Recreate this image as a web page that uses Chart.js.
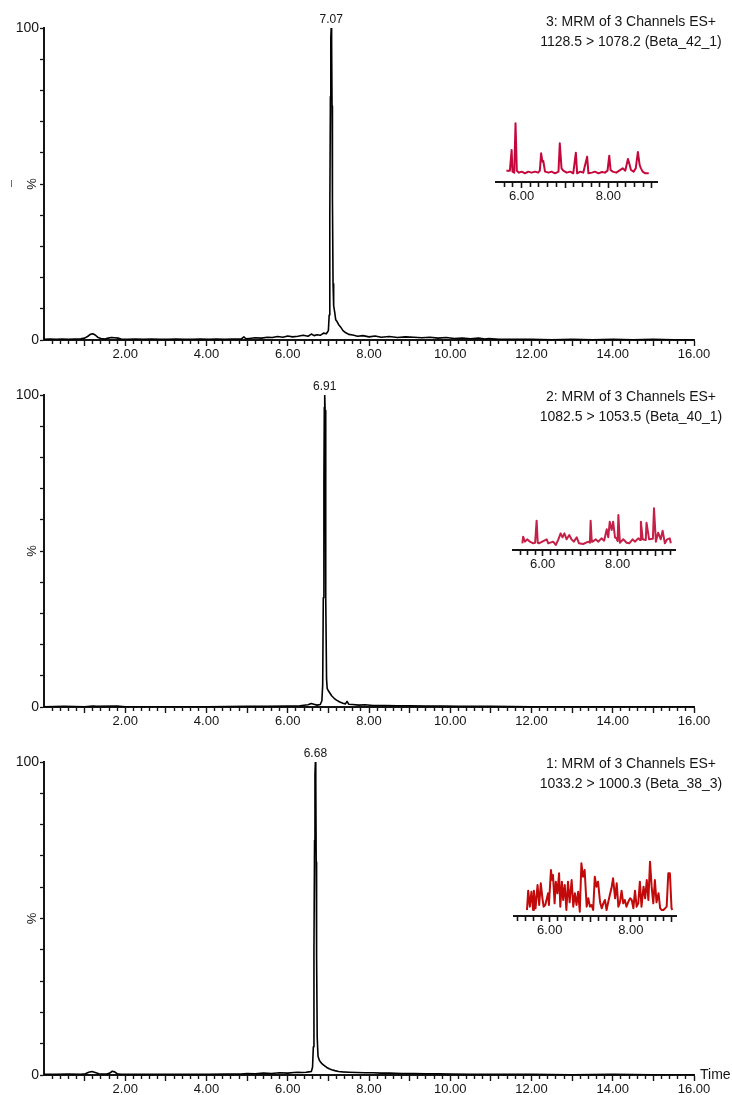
<!DOCTYPE html>
<html>
<head>
<meta charset="utf-8">
<title>MRM chromatograms</title>
<script src="https://cdn.jsdelivr.net/npm/chart.js@4.4.1/dist/chart.umd.min.js"></script>
<style>
  html, body { margin: 0; padding: 0; background: #ffffff; }
  #wrap { position: relative; width: 732px; height: 1095px; overflow: hidden; background: #ffffff; }
  #wrap canvas { position: absolute; }
</style>
</head>
<body>
<div id="wrap"></div>
<script>
// ---- labels -------------------------------------------------------------
const timeLabels = [2, 4, 6, 8, 10, 12, 14, 16];      // main retention-time axis (min)
const zoomTimeLabels = [6, 8];                        // zoomed window axis (min)
const intensityLabels = [0, 100];                     // relative intensity (%)

const channelTitles = [
  ['3: MRM of 3 Channels ES+', '1128.5 > 1078.2 (Beta_42_1)'],
  ['2: MRM of 3 Channels ES+', '1082.5 > 1053.5 (Beta_40_1)'],
  ['1: MRM of 3 Channels ES+', '1033.2 > 1000.3 (Beta_38_3)']
];
const peakTimes = [7.07, 6.91, 6.68];

// ---- full-range traces: [time (min), intensity (%)] --------------------
const ch3Trace = [
  [0.00,0.2],[0.15,0.3],[0.30,0.2],[0.45,0.3],[0.60,0.2],[0.75,0.3],[0.90,0.4],[1.00,0.6],
  [1.08,1.2],[1.14,1.8],[1.20,2.0],[1.26,1.6],[1.32,0.9],[1.40,0.5],[1.50,0.3],[1.58,0.6],
  [1.66,0.8],[1.74,0.7],[1.82,0.6],[1.90,0.3],[2.05,0.2],[2.25,0.3],[2.45,0.2],[2.65,0.3],
  [2.85,0.2],[3.05,0.2],[3.25,0.3],[3.45,0.2],[3.65,0.2],[3.85,0.3],[4.05,0.2],[4.25,0.3],
  [4.45,0.2],[4.65,0.3],[4.85,0.3],[4.92,1.0],[4.97,0.4],[5.05,0.5],[5.20,0.7],[5.35,0.6],
  [5.50,0.9],[5.62,0.8],[5.75,1.1],[5.88,0.9],[6.00,1.3],[6.12,1.0],[6.25,1.2],[6.38,1.5],
  [6.50,1.2],[6.58,1.9],[6.65,1.4],[6.72,1.7],[6.80,1.5],[6.88,2.2],[6.95,2.0],[7.00,3.0],
  [7.02,8],[7.035,40],[7.05,78],[7.06,97],[7.07,100],[7.08,95],[7.09,75],[7.10,45],
  [7.115,18],[7.13,11],[7.16,8.5],[7.18,6.5],[7.21,6.0],[7.25,5.0],[7.30,4.2],[7.36,3.0],
  [7.42,2.4],[7.50,1.8],[7.60,1.6],[7.72,1.2],[7.85,1.4],[8.00,1.0],[8.15,1.3],[8.30,0.9],
  [8.50,1.1],[8.70,0.8],[8.90,1.0],[9.10,0.9],[9.30,0.7],[9.50,0.9],[9.70,0.6],[9.90,0.8],
  [10.10,0.5],[10.30,0.6],[10.50,0.4],[10.70,0.6],[10.85,0.3],[10.95,0.5],[11.20,0.2],
  [11.60,0.2],[12.00,0.2],[12.50,0.1],[13.00,0.2],[13.50,0.1],[14.00,0.2],[14.50,0.1],
  [15.00,0.2],[15.50,0.1],[16.00,0.1]
];
const ch2Trace = [
  [0.00,0.1],[0.50,0.2],[1.00,0.1],[1.20,0.3],[1.30,0.2],[1.80,0.3],[2.00,0.1],[3.00,0.1],
  [4.00,0.1],[5.00,0.2],[5.50,0.2],[6.00,0.3],[6.30,0.4],[6.50,0.7],[6.58,1.1],[6.64,0.9],
  [6.72,0.6],[6.80,0.8],[6.84,2.0],[6.86,7],[6.875,35],[6.89,72],[6.90,96],[6.91,100],
  [6.92,95],[6.93,70],[6.94,35],[6.955,9],[6.97,6.0],[7.00,5.2],[7.04,4.4],[7.08,3.6],
  [7.14,2.8],[7.20,2.2],[7.28,1.6],[7.36,1.2],[7.42,1.0],[7.46,1.8],[7.50,0.9],[7.60,0.8],
  [7.75,0.6],[7.90,0.7],[8.10,0.5],[8.40,0.5],[8.70,0.4],[9.00,0.4],[9.40,0.3],[9.80,0.3],
  [10.20,0.2],[11.00,0.2],[12.00,0.1],[13.00,0.1],[14.00,0.1],[15.00,0.1],[16.00,0.1]
];
const ch1Trace = [
  [0.00,0.2],[0.30,0.2],[0.60,0.3],[0.90,0.2],[1.02,0.4],[1.10,0.9],[1.18,1.1],[1.26,0.8],
  [1.35,0.4],[1.45,0.3],[1.55,0.3],[1.62,0.6],[1.68,1.2],[1.74,1.0],[1.80,0.4],[1.90,0.2],
  [2.10,0.2],[2.50,0.2],[3.00,0.2],[3.50,0.2],[4.00,0.2],[4.50,0.3],[4.85,0.3],[5.00,0.5],
  [5.20,0.4],[5.40,0.6],[5.60,0.5],[5.80,0.7],[6.00,0.6],[6.15,0.8],[6.25,0.9],[6.35,0.8],
  [6.45,0.9],[6.52,1.0],[6.58,1.1],[6.61,2.5],[6.63,9],[6.645,40],[6.66,75],[6.67,96],
  [6.68,100],[6.69,94],[6.70,68],[6.71,38],[6.725,12],[6.745,6.0],[6.78,4.6],[6.84,3.6],
  [6.90,3.0],[6.96,2.4],[7.02,2.0],[7.08,1.7],[7.16,1.4],[7.25,1.1],[7.35,1.0],[7.50,0.9],
  [7.70,0.8],[7.90,0.7],[8.10,0.7],[8.30,0.6],[8.50,0.6],[8.80,0.5],[9.10,0.5],[9.40,0.4],
  [9.70,0.4],[10.00,0.3],[10.50,0.2],[11.00,0.2],[12.00,0.2],[13.00,0.1],[14.00,0.2],
  [15.00,0.1],[16.00,0.1]
];

// ---- zoomed windows: [time (min), relative height within window] -------
const ch3Zoom = [
  [5.65,18.3],[5.73,18.3],[5.77,51.6],[5.79,16.7],[5.83,15.1],[5.86,94.6],[5.89,18.3],[5.94,15.1],
  [6.00,16.7],[6.08,14.0],[6.15,16.7],[6.23,15.1],[6.31,16.7],[6.38,15.1],[6.42,18.3],[6.45,46.2],
  [6.48,32.8],[6.50,33.9],[6.54,16.7],[6.62,15.1],[6.69,16.7],[6.77,14.0],[6.85,16.7],[6.88,62.4],
  [6.92,22.0],[6.96,18.3],[7.04,15.1],[7.12,16.7],[7.19,14.0],[7.25,47.3],[7.28,14.0],[7.35,16.7],
  [7.42,15.1],[7.51,40.9],[7.54,14.0],[7.62,15.1],[7.69,16.7],[7.77,14.0],[7.85,16.1],[7.92,15.1],
  [7.98,18.3],[8.02,42.5],[8.05,19.4],[8.10,16.7],[8.18,15.1],[8.25,18.3],[8.33,22.0],[8.39,18.3],
  [8.45,37.1],[8.48,30.1],[8.52,19.4],[8.58,16.7],[8.63,22.0],[8.68,48.4],[8.72,27.4],[8.75,22.0],
  [8.79,16.7],[8.85,14.0],[8.90,14.0],[8.93,14.0]
];
const ch2Zoom = [
  [5.46,14.8],[5.48,29.6],[5.53,18.5],[5.59,23.7],[5.66,18.5],[5.75,14.8],[5.80,16.0],[5.84,65.2],
  [5.87,16.0],[5.90,14.8],[6.11,23.7],[6.15,14.8],[6.28,18.5],[6.35,11.1],[6.42,23.7],[6.48,37.0],
  [6.53,28.1],[6.58,37.0],[6.64,23.7],[6.71,33.3],[6.77,23.7],[6.83,18.5],[6.91,28.1],[6.97,14.8],
  [7.08,13.3],[7.22,18.5],[7.26,16.0],[7.28,65.2],[7.31,18.5],[7.33,18.5],[7.42,23.7],[7.48,18.5],
  [7.57,25.9],[7.64,20.7],[7.71,45.9],[7.75,28.1],[7.79,62.9],[7.84,44.4],[7.88,62.9],[7.93,28.1],
  [7.97,25.9],[8.00,20.0],[8.02,77.8],[8.06,16.3],[8.15,23.7],[8.24,16.3],[8.31,14.8],[8.40,23.7],
  [8.46,18.5],[8.55,25.9],[8.60,22.0],[8.62,62.9],[8.67,23.7],[8.75,22.0],[8.77,60.7],[8.84,23.7],
  [8.94,25.0],[8.97,92.6],[9.02,18.5],[9.08,38.5],[9.15,23.7],[9.20,42.9],[9.26,14.8],[9.32,23.7],
  [9.39,25.9],[9.42,14.8]
];
const ch1Zoom = [
  [5.44,10.3],[5.47,43.7],[5.51,16.1],[5.55,41.9],[5.59,10.3],[5.61,43.7],[5.65,13.2],[5.70,53.4],
  [5.74,19.0],[5.78,56.3],[5.82,30.5],[5.85,16.1],[5.89,19.0],[5.92,27.6],[5.96,39.1],[5.98,19.0],
  [6.03,79.3],[6.06,62.1],[6.08,70.7],[6.12,21.8],[6.15,59.2],[6.19,39.1],[6.23,73.6],[6.26,16.1],
  [6.30,59.2],[6.33,27.6],[6.37,53.4],[6.41,10.3],[6.45,59.2],[6.49,23.6],[6.54,62.1],[6.58,16.1],
  [6.62,39.1],[6.66,19.0],[6.70,41.9],[6.74,7.5],[6.78,90.8],[6.82,67.8],[6.86,79.3],[6.91,16.1],
  [6.95,30.5],[6.99,16.1],[7.03,19.0],[7.07,10.3],[7.11,67.8],[7.15,50.6],[7.19,59.2],[7.24,23.6],
  [7.28,13.2],[7.32,21.8],[7.36,27.6],[7.40,10.3],[7.44,23.6],[7.48,36.2],[7.52,47.7],[7.56,64.9],
  [7.61,30.5],[7.65,56.3],[7.69,16.1],[7.73,23.6],[7.77,43.7],[7.81,21.8],[7.85,27.6],[7.89,16.1],
  [7.93,23.6],[7.98,30.5],[8.02,27.6],[8.06,13.2],[8.10,43.7],[8.14,16.1],[8.18,21.8],[8.22,59.2],
  [8.26,16.1],[8.31,50.6],[8.35,30.5],[8.39,62.1],[8.43,27.6],[8.47,93.7],[8.51,50.6],[8.55,21.8],
  [8.59,62.1],[8.63,23.6],[8.68,39.1],[8.72,13.2],[8.76,10.3],[8.80,10.3],[8.84,13.2],[8.88,16.1],
  [8.92,73.6],[8.96,73.6],[9.00,13.2],[9.02,10.3]
];

// ---- styling / layout ----------------------------------------------------
const FONT = '"Liberation Sans", Arial, Helvetica, sans-serif';
const INK = '#151515';
const zoomColors = ['#c4083c', '#c52048', '#c20a0a'];

const panels = [
  { trace: ch3Trace, zoom: ch3Zoom, top: 0,   height: 365, padTop: 28, axisH: 25, titleDy: [-6, 14], mark: true,
    box: { left: 496, right: 657, top: 120, bottom: 182, min: 5.41, max: 9.12 } },
  { trace: ch2Trace, zoom: ch2Zoom, top: 365, height: 367, padTop: 30, axisH: 25, titleDy: [2, 22],
    box: { left: 513, right: 675, top: 505, bottom: 550, min: 5.21, max: 9.53 } },
  { trace: ch1Trace, zoom: ch1Zoom, top: 732, height: 363, padTop: 30, axisH: 20, titleDy: [2, 22], timeTitle: true,
    box: { left: 514, right: 676, top: 858, bottom: 916, min: 5.12, max: 9.11 } }
];

const wrap = document.getElementById('wrap');

function gridTicks(lo, hi, step) {
  const out = [];
  for (let k = Math.ceil(lo / step - 1e-9); k * step <= hi + 1e-9; k++) {
    out.push({ value: Math.round(k * step * 1000) / 1000 });
  }
  return out;
}
const isWhole = v => Math.abs(v - Math.round(v)) < 1e-6;
const inList = (list, v) => list.some(l => Math.abs(l - v) < 1e-6);

function addCanvas(left, top, w, h) {
  const cv = document.createElement('canvas');
  cv.width = w; cv.height = h;
  cv.style.left = left + 'px'; cv.style.top = top + 'px';
  cv.style.width = w + 'px'; cv.style.height = h + 'px';
  wrap.appendChild(cv);
  return cv;
}

function makeMain(p, i) {
  const cv = addCanvas(0, p.top, 732, p.height);
  const decor = {
    id: 'decor' + i,
    afterDatasetsDraw(chart) {
      const { ctx, chartArea, scales } = chart;
      ctx.save();
      ctx.fillStyle = INK;
      // apex retention time
      const t = peakTimes[i];
      ctx.font = '12px ' + FONT;
      ctx.textAlign = 'center';
      ctx.textBaseline = 'middle';
      ctx.fillText(t.toFixed(2), scales.x.getPixelForValue(t), scales.y.getPixelForValue(100) - 8);
      // channel description, two centred lines at the upper right
      ctx.font = '14px ' + FONT;
      channelTitles[i].forEach((line, k) => ctx.fillText(line, 631, chartArea.top + p.titleDy[k]));
      if (p.timeTitle) {
        ctx.textAlign = 'left';
        ctx.fillText('Time', chartArea.right + 6, chartArea.bottom);
      }
      if (p.mark) {
        ctx.strokeStyle = '#a048a8';
        ctx.lineWidth = 1;
        const ym = (chartArea.top + chartArea.bottom) / 2;
        ctx.beginPath();
        ctx.moveTo(chartArea.left - 32.5, ym - 4);
        ctx.lineTo(chartArea.left - 32.5, ym + 3);
        ctx.stroke();
      }
      ctx.restore();
    }
  };
  new Chart(cv, {
    type: 'line',
    data: {
      datasets: [{
        data: p.trace.map(([x, y]) => ({ x, y })),
        borderColor: '#000000',
        borderWidth: 1.6,
        borderJoinStyle: 'round',
        pointRadius: 0,
        tension: 0,
        fill: false
      }]
    },
    options: {
      responsive: false,
      animation: false,
      devicePixelRatio: 1,
      layout: { padding: { left: 0, right: 38, top: p.padTop, bottom: 0 } },
      plugins: { legend: { display: false }, tooltip: { enabled: false } },
      scales: {
        x: {
          type: 'linear',
          min: 0, max: 16,
          afterBuildTicks: s => { s.ticks = gridTicks(0.2, 16, 0.2); },
          afterFit: s => { s.height = p.axisH; },
          grid: {
            drawOnChartArea: false, drawTicks: true, tickLength: 6,
            tickColor: INK, tickWidth: 1.4,
            tickBorderDash: c => (c.tick && isWhole(c.tick.value)) ? [] : [3, 20]
          },
          border: { display: true, color: INK, width: 2 },
          ticks: {
            autoSkip: false, maxRotation: 0, minRotation: 0, padding: 1,
            color: INK, font: { family: FONT, size: 13 },
            callback: v => inList(timeLabels, v) ? v.toFixed(2) : ''
          }
        },
        y: {
          type: 'linear',
          min: 0, max: 100,
          afterFit: s => { s.width = 44; },
          grid: { drawOnChartArea: false, drawTicks: true, tickLength: 4, tickColor: INK, tickWidth: 1.3 },
          border: { display: true, color: INK, width: 2 },
          ticks: {
            stepSize: 10, autoSkip: false, padding: 1,
            color: INK, font: { family: FONT, size: 14 },
            callback: v => inList(intensityLabels, v) ? String(v) : ''
          },
          title: {
            display: true, text: '%', color: INK,
            font: { family: FONT, size: 13 },
            padding: { top: 25, bottom: 0 }
          }
        }
      }
    },
    plugins: [decor]
  });
}

function makeZoom(p, i) {
  const b = p.box;
  const padL = 22, padR = 32, padT = 10, axisH = 26;
  const w = b.right - b.left + padL + padR;
  const h = b.bottom - b.top + padT + axisH;
  const cv = addCanvas(b.left - padL, b.top - padT, w, h);
  new Chart(cv, {
    type: 'line',
    data: {
      datasets: [{
        data: p.zoom.map(([x, y]) => ({ x, y })),
        borderColor: zoomColors[i],
        borderWidth: 2,
        borderJoinStyle: 'round',
        pointRadius: 0,
        tension: 0,
        fill: false
      }]
    },
    options: {
      responsive: false,
      animation: false,
      devicePixelRatio: 1,
      layout: { padding: { left: padL, right: padR, top: padT, bottom: 0 } },
      plugins: { legend: { display: false }, tooltip: { enabled: false } },
      scales: {
        x: {
          type: 'linear',
          min: b.min, max: b.max,
          afterBuildTicks: s => { s.ticks = gridTicks(b.min, b.max, 0.2); },
          afterFit: s => { s.height = axisH; },
          grid: {
            drawOnChartArea: false, drawTicks: true, tickLength: 6,
            tickColor: INK, tickWidth: 1.6,
            tickBorderDash: c => (c.tick && isWhole(c.tick.value)) ? [] : [4, 20]
          },
          border: { display: true, color: INK, width: 2 },
          ticks: {
            autoSkip: false, maxRotation: 0, minRotation: 0, padding: 1,
            color: INK, font: { family: FONT, size: 13 },
            callback: v => inList(zoomTimeLabels, v) ? v.toFixed(2) : ''
          }
        },
        y: { type: 'linear', display: false, min: 0, max: 100 }
      }
    }
  });
}

panels.forEach(makeMain);
panels.forEach(makeZoom);
</script>
</body>
</html>
